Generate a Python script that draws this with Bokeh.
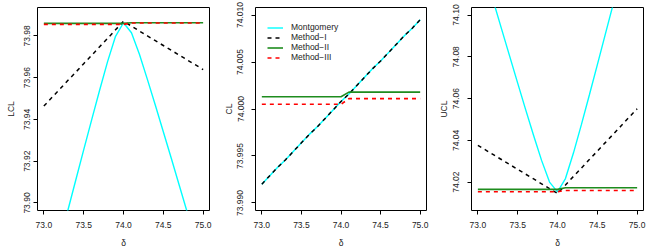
import math
from bokeh.plotting import figure
from bokeh.layouts import row
from bokeh.models import Range1d, FixedTicker, Legend, LegendItem, CustomJSTickFormatter
from bokeh.embed import file_html
from bokeh.resources import INLINE

# ---- data ----
delta = [73.0, 73.1, 73.2, 73.3, 73.4, 73.5, 73.6, 73.7, 73.8, 73.9, 74.0,
         74.1, 74.2, 74.3, 74.4, 74.5, 74.6, 74.7, 74.8, 74.9, 75.0]

mont_lcl = [73.8523, 73.8669, 73.8816, 73.8963, 73.9109, 73.9254, 73.9398,
            73.9540, 73.9677, 73.9798, 73.9863, 73.9815, 73.9712, 73.9592,
            73.9468, 73.9341, 73.9214, 73.9085, 73.8956, 73.8827, 73.8698]
mont_cl = [73.9920, 73.9929, 73.9938, 73.9946, 73.9955, 73.9964, 73.9973,
           73.9981, 73.9990, 73.9999, 74.0008, 74.0016, 74.0025, 74.0034,
           74.0043, 74.0051, 74.0060, 74.0069, 74.0078, 74.0086, 74.0095]
mont_ucl = [74.1318, 74.1188, 74.1059, 74.0930, 74.0802, 74.0674, 74.0547,
            74.0423, 74.0304, 74.0200, 74.0153, 74.0217, 74.0339, 74.0475,
            74.0617, 74.0761, 74.0907, 74.1053, 74.1199, 74.1346, 74.1493]

m1_lcl = [73.9464, 73.9505, 73.9545, 73.9586, 73.9626, 73.9667, 73.9707,
          73.9748, 73.9788, 73.9829, 73.9870, 73.9847, 73.9823, 73.9800,
          73.9777, 73.9754, 73.9731, 73.9708, 73.9685, 73.9662, 73.9639]
m1_cl = mont_cl
m1_ucl = [74.0376, 74.0353, 74.0330, 74.0307, 74.0284, 74.0261, 74.0238,
          74.0215, 74.0192, 74.0169, 74.0146, 74.0186, 74.0227, 74.0267,
          74.0308, 74.0348, 74.0389, 74.0429, 74.0470, 74.0511, 74.0551]

m2_lcl = [73.9860] * 11 + [73.9863] * 10
m2_cl = [74.0013] * 11 + [74.0018] * 10
m2_ucl = [74.0165] * 11 + [74.0173] * 10

m3_lcl = [73.9855] * 11 + [73.9862] * 10
m3_cl = [74.0005] * 11 + [74.0011] * 10
m3_ucl = [74.0154] * 11 + [74.0160] * 10

x_ticks = [73.0, 73.5, 74.0, 74.5, 75.0]
lcl_ticks = [73.90, 73.92, 73.94, 73.96, 73.98]
cl_ticks = [73.990, 73.995, 74.000, 74.005, 74.010]
ucl_ticks = [74.02, 74.04, 74.06, 74.08, 74.10]

series_names = ["Montgomery", "Method\u2212I", "Method\u2212II", "Method\u2212III"]
colors = ["#00FFFF", "#000000", "#1E8C1E", "#FF0000"]
dashes = ["solid", "4 4", "solid", "4 4"]
widths = [1.4, 1.5, 1.6, 1.6]

FONT = "Liberation Sans"
FS = "8.5px"


def make_fig(width, b_left, b_right, ylab, yr, yticks, ydec, lab_standoff, ax_standoff,
             series, legend=False):
    p = figure(width=width, height=250, output_backend="svg", toolbar_location=None,
               x_range=Range1d(72.92, 75.08), y_range=Range1d(*yr),
               min_border_left=b_left, min_border_right=b_right,
               min_border_top=7, min_border_bottom=38)
    p.xgrid.visible = False
    p.ygrid.visible = False
    p.outline_line_color = "black"
    p.outline_line_width = 1
    p.background_fill_color = "white"
    p.border_fill_color = "white"
    renderers = []
    for ys, c, d, w in zip(series, colors, dashes, widths):
        r = p.line(delta, ys, line_color=c, line_width=w, line_dash=d)
        renderers.append(r)
    for ax in (p.xaxis[0], p.yaxis[0]):
        ax.axis_line_color = None
        ax.major_tick_line_color = "black"
        ax.major_tick_out = 4
        ax.major_tick_in = 0
        ax.minor_tick_line_color = None
        ax.major_label_text_font = FONT
        ax.major_label_text_font_size = FS
        ax.major_label_text_color = "#222222"
        ax.axis_label_text_font = FONT
        ax.axis_label_text_font_size = FS
        ax.axis_label_text_font_style = "normal"
        ax.axis_label_text_color = "#222222"
    p.xaxis.ticker = FixedTicker(ticks=x_ticks)
    p.xaxis.formatter = CustomJSTickFormatter(code="return tick.toFixed(1);")
    p.xaxis.axis_label = "\u03b4"
    p.xaxis.major_label_standoff = 7
    p.xaxis.axis_label_standoff = 7
    p.yaxis.ticker = FixedTicker(ticks=yticks)
    p.yaxis.formatter = CustomJSTickFormatter(code="return tick.toFixed(%d);" % ydec)
    p.yaxis.axis_label = ylab
    p.yaxis.major_label_orientation = "vertical"
    p.yaxis.major_label_standoff = lab_standoff
    p.yaxis.axis_label_standoff = ax_standoff
    if legend:
        items = [LegendItem(label=n, renderers=[r]) for n, r in zip(series_names, renderers)]
        lg = Legend(items=items, location=(12, 148), margin=0, padding=0, spacing=0,
                    border_line_color=None, background_fill_alpha=0,
                    label_text_font=FONT, label_text_font_size=FS,
                    label_text_color="#222222", glyph_width=16, glyph_height=9,
                    label_height=9, label_standoff=8)
        p.add_layout(lg, "center")
    return p


p1 = make_fig(217, 37, 8, "LCL", (73.8964, 73.9936), lcl_ticks, 2, 3, 6,
              [mont_lcl, m1_lcl, m2_lcl, m3_lcl])
p2 = make_fig(216, 38, 7, "CL", (73.9892, 74.0108), cl_ticks, 3, 8, 1,
              [mont_cl, m1_cl, m2_cl, m3_cl], legend=True)
p3 = make_fig(217, 38, 7, "UCL", (74.0064, 74.1036), ucl_ticks, 2, 8, 2,
              [mont_ucl, m1_ucl, m2_ucl, m3_ucl])

layout = row(p1, p2, p3, spacing=0)
open("out.html", "w").write(file_html(layout, INLINE))
